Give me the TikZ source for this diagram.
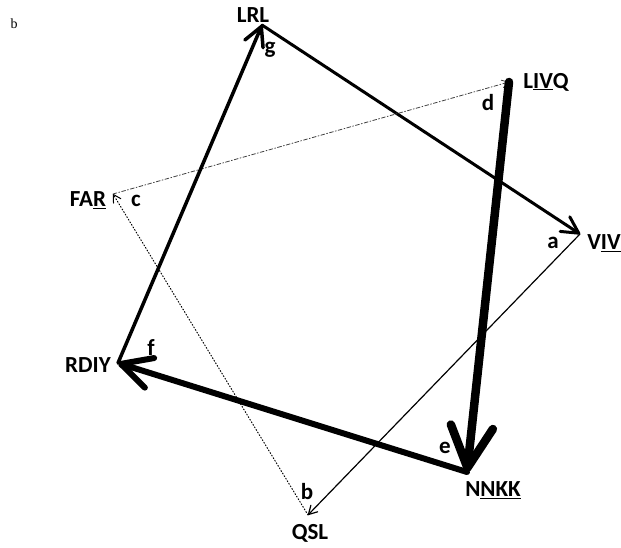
\documentclass[tikz,border=0pt]{standalone}
\usepackage{fontspec}
\setmainfont{Carlito}
\newfontfamily\tnr{Liberation Serif}
\usetikzlibrary{arrows.meta}
\definecolor{INK}{HTML}{000000}
\definecolor{DASHG}{HTML}{404040}

\begin{document}
\begin{tikzpicture}[x=1pt,y=-1pt]
\tikzset{vx/.style={font=\fontsize{23}{25}\selectfont\bfseries,inner sep=0pt},
 lt/.style={font=\fontsize{23}{25}\selectfont\bfseries,inner sep=0pt},
 ar/.style={-{Straight Barb[length=3pt 4.5,width=4pt 4.5,round]},line cap=round,INK}}
\useasboundingbox (0,0) rectangle (621,548);
\node[font=\tnr\fontsize{14}{16}\selectfont,inner sep=0pt] (tag) at (14,24) {b};
% corners
\coordinate (LRL) at (262,25);\coordinate (LIVQ) at (509,82);
\coordinate (VIV) at (580,234);\coordinate (QSL) at (308,515);
\coordinate (NNKK) at (467,472);\coordinate (RDIY) at (118,363);
\coordinate (FAR) at (113,194);
\node[vx] (nLRL) at (253,15) {LRL};\node[vx] (nLIVQ) at (546,82) {L\underline{IV}Q};
\node[vx] (nVIV) at (604,243) {V\underline{IV}};\node[vx] (nQSL) at (310,533) {QSL};
\node[vx] (nNNKK) at (493,490) {N\underline{NKK}};\node[vx] (nRDIY) at (88,365) {RDIY};
\node[vx] (nFAR) at (88,200) {FA\underline{R}};
% edges
\draw[ar,line width=3pt] (LRL) -- (VIV);
\draw[ar,line width=1.2pt] (VIV) -- (QSL);
\draw[ar,line width=1pt,dotted] (QSL) -- (FAR);
\draw[ar,line width=0.8pt,DASHG,dash pattern=on 4pt off 2pt on 1pt off 2pt] (FAR) -- (LIVQ);
\draw[ar,line width=8.5pt] (LIVQ) -- (NNKK);
\draw[ar,line width=6pt] (NNKK) -- (RDIY);
\draw[ar,line width=3.5pt] (RDIY) -- (LRL);
\node[lt] (la) at (553,243) {a};\node[lt] (lb) at (307,492) {b};
\node[lt] (lc) at (136,201) {c};\node[lt] (ld) at (488,103) {d};
\node[lt] (le) at (445,448) {e};\node[lt] (lf) at (151,348) {f};
\node[lt] (lg) at (270,50) {g};
\end{tikzpicture}
\end{document}
